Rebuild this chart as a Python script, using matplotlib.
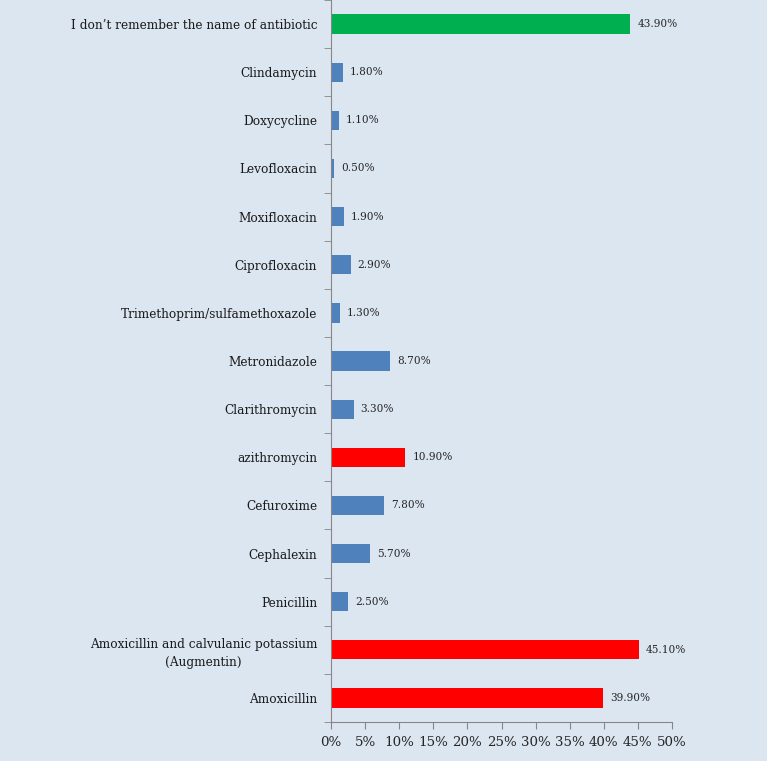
import numpy as np
import matplotlib.pyplot as plt
from matplotlib.ticker import FixedLocator

# bottom to top, as drawn
drugs = [
    "Amoxicillin",
    "Amoxicillin and calvulanic potassium\n(Augmentin)",
    "Penicillin",
    "Cephalexin",
    "Cefuroxime",
    "azithromycin",
    "Clarithromycin",
    "Metronidazole",
    "Trimethoprim/sulfamethoxazole",
    "Ciprofloxacin",
    "Moxifloxacin",
    "Levofloxacin",
    "Doxycycline",
    "Clindamycin",
    "I don\u2019t remember the name of antibiotic",
]
percent = [39.9, 45.1, 2.5, 5.7, 7.8, 10.9, 3.3, 8.7, 1.3, 2.9, 1.9, 0.5, 1.1, 1.8, 43.9]
highlight = ["red", "red", "", "", "", "red", "", "", "", "", "", "", "", "", "green"]
x_ticks = [0, 5, 10, 15, 20, 25, 30, 35, 40, 45, 50]

colour_map = {"red": "#ff0000", "green": "#00b050", "": "#4f81bd"}
bg = "#dce6f1"

fig = plt.figure(figsize=(7.67, 7.61), dpi=100, facecolor=bg)
ax = fig.add_axes([0.4316, 0.0512, 0.4445, 0.9488], facecolor=bg)

y = np.arange(len(drugs))
colors = [colour_map[h] for h in highlight]
ax.barh(y, percent, height=0.4, color=colors)

for yi, v in zip(y, percent):
    ax.text(v + 1.0, yi, f"{v:.2f}%", va="center", ha="left",
            fontsize=7.6, family="DejaVu Serif", color="#262626")

ax.set_xlim(0, 50)
ax.set_ylim(-0.5, len(drugs) - 0.5)
ax.set_xticks(x_ticks)
ax.set_xticklabels([f"{t}%" for t in x_ticks], fontsize=9.6,
                   family="DejaVu Serif", color="#262626")
ax.set_yticks(y)
ax.set_yticklabels(drugs, fontsize=8.7, family="DejaVu Serif", color="#1a1a1a")
for lab in ax.get_yticklabels():
    lab.set_multialignment("center")
    lab.set_linespacing(1.45)
ax.tick_params(axis="y", which="major", length=0, pad=10)
ax.yaxis.set_minor_locator(FixedLocator(np.arange(-0.5, len(drugs), 1.0)))
ax.tick_params(axis="y", which="minor", length=5, color="#868686", direction="out")
ax.tick_params(axis="x", length=5, color="#868686", direction="out", pad=5)

for s in ["top", "right"]:
    ax.spines[s].set_visible(False)
for s in ["left", "bottom"]:
    ax.spines[s].set_color("#868686")

fig.savefig("out.png", dpi=100, facecolor=bg)
